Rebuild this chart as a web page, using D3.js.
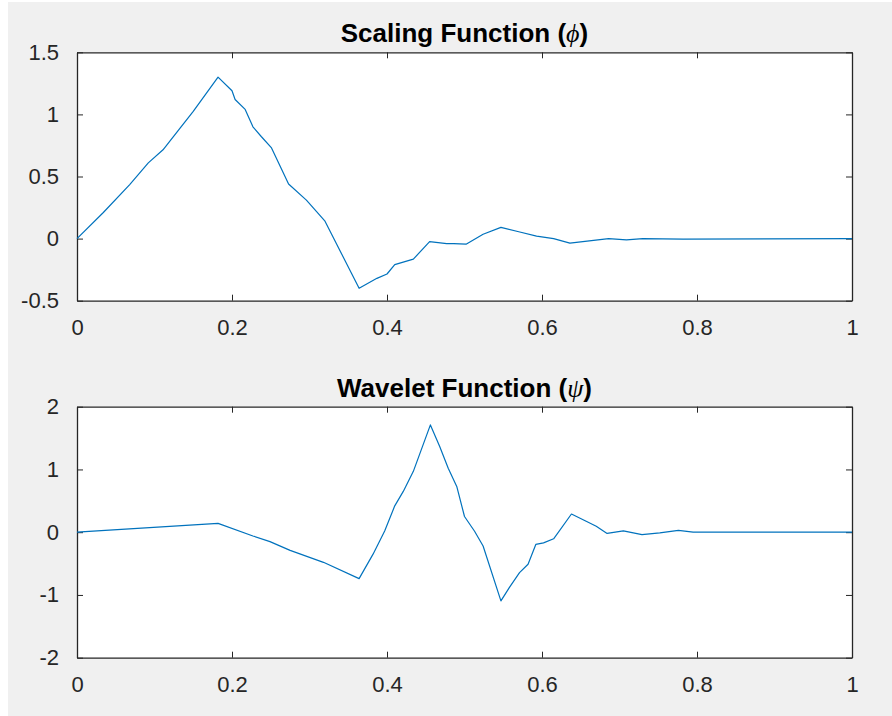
<!DOCTYPE html>
<html>
<head>
<meta charset="utf-8">
<script src="https://cdn.jsdelivr.net/npm/d3@7"></script>
<style>
    body { margin: 0; background: #ffffff; }
    svg { display: block; }
</style>
</head>
<body>
<svg id="svg"></svg>
<script>
// scaling function
let phiX = [0, 0.034, 0.068, 0.092, 0.111, 0.133, 0.150, 0.182, 0.200, 0.204, 0.217, 0.227, 0.238, 0.251, 0.273, 0.296, 0.320,
    0.364, 0.387, 0.400, 0.410, 0.434, 0.455, 0.477, 0.486, 0.502, 0.524, 0.547, 0.570, 0.593, 0.615, 0.636, 0.686, 0.709, 0.730, 0.782, 1.0];
let phiY = [0, 0.21, 0.435, 0.61, 0.715, 0.89, 1.025, 1.30, 1.19, 1.12, 1.04, 0.90, 0.82, 0.73, 0.44, 0.31, 0.14,
    -0.40, -0.32, -0.285, -0.21, -0.165, -0.025, -0.04, -0.04, -0.045, 0.035, 0.09, 0.055, 0.02, 0.0, -0.037, 0.0, -0.01, 0.0, -0.005, 0];

// wavelet function
let psiX = [0, 0.182, 0.227, 0.249, 0.275, 0.318, 0.364, 0.382, 0.397, 0.410, 0.421, 0.434, 0.456, 0.468, 0.479, 0.490, 0.500, 0.513,
    0.524, 0.547, 0.558, 0.571, 0.582, 0.592, 0.602, 0.615, 0.638, 0.657, 0.670, 0.684, 0.705, 0.729, 0.752, 0.776, 0.795, 1.0];
let psiY = [0, 0.14, -0.06, -0.15, -0.29, -0.48, -0.74, -0.35, 0.02, 0.42, 0.65, 0.97, 1.71, 1.365, 1.02, 0.73, 0.25, 0.015,
    -0.22, -1.095, -0.88, -0.645, -0.51, -0.195, -0.17, -0.105, 0.29, 0.175, 0.095, -0.02, 0.02, -0.04, -0.01, 0.03, 0.0, 0];

let xTicks = [0, 0.2, 0.4, 0.6, 0.8, 1];
let phiTicks = [-0.5, 0, 0.5, 1, 1.5];
let psiTicks = [-2, -1, 0, 1, 2];

const width = 892;
const height = 716;
const axisColor = "#262626";
const lineColor = "#0072BD";
const tickLen = 6;

let svg = d3.select("#svg").attr("width", width).attr("height", height);

svg.append("rect")
    .attr("x", 8).attr("y", 2)
    .attr("width", width - 8).attr("height", height - 2)
    .attr("fill", "#f0f0f0");

function drawPanel(xs, ys, yDomain, yTicks, box, titleMain, titleSym) {
    let xScale = d3.scaleLinear().domain([0, 1]).range([box.left, box.right]);
    let yScale = d3.scaleLinear().domain(yDomain).range([box.bottom, box.top]);

    let g = svg.append("g");

    g.append("rect")
        .attr("x", box.left).attr("y", box.top)
        .attr("width", box.right - box.left).attr("height", box.bottom - box.top)
        .attr("fill", "#ffffff");

    let fmt = d => String(d);

    // bottom and top axes, ticks pointing inward
    g.append("g")
        .attr("transform", `translate(0,${box.bottom})`)
        .call(d3.axisBottom(xScale).tickValues(xTicks).tickSizeInner(-tickLen).tickSizeOuter(0).tickPadding(tickLen + 13).tickFormat(fmt));
    g.append("g")
        .attr("transform", `translate(0,${box.top})`)
        .call(d3.axisTop(xScale).tickValues(xTicks).tickSizeInner(-tickLen).tickSizeOuter(0).tickFormat(""));

    // left and right axes
    g.append("g")
        .attr("transform", `translate(${box.left},0)`)
        .call(d3.axisLeft(yScale).tickValues(yTicks).tickSizeInner(-tickLen).tickSizeOuter(0).tickPadding(tickLen + 12).tickFormat(fmt));
    g.append("g")
        .attr("transform", `translate(${box.right},0)`)
        .call(d3.axisRight(yScale).tickValues(yTicks).tickSizeInner(-tickLen).tickSizeOuter(0).tickFormat(""));

    g.selectAll(".domain").attr("stroke", axisColor).attr("stroke-width", 1.3);
    g.selectAll(".tick line").attr("stroke", axisColor).attr("stroke-width", 1);
    g.selectAll(".tick text")
        .attr("fill", axisColor)
        .style("font-family", "Arial, 'Liberation Sans', Helvetica, sans-serif")
        .style("font-size", "22px");

    let points = xs.map((x, i) => [x, ys[i]]);
    let line = d3.line()
        .x(d => xScale(d[0]))
        .y(d => yScale(d[1]));

    g.append("path")
        .datum(points)
        .attr("d", line)
        .attr("fill", "none")
        .attr("stroke", lineColor)
        .attr("stroke-width", 1.2)
        .attr("stroke-linejoin", "round");

    let title = g.append("text")
        .attr("x", (box.left + box.right) / 2)
        .attr("y", box.top - 10)
        .attr("text-anchor", "middle")
        .attr("fill", "#000000")
        .style("font-family", "Arial, 'Liberation Sans', Helvetica, sans-serif")
        .style("font-size", "26px")
        .style("font-weight", "bold");
    title.append("tspan").text(titleMain + " (");
    title.append("tspan")
        .style("font-family", "'Liberation Serif', 'DejaVu Serif', serif")
        .style("font-style", "italic")
        .style("font-weight", "normal")
        .text(titleSym);
    title.append("tspan").text(")");
}

drawPanel(phiX, phiY, [-0.5, 1.5], phiTicks,
    { left: 77, right: 852, top: 52.3, bottom: 300.7 }, "Scaling Function", "\u03D5");
drawPanel(psiX, psiY, [-2, 2], psiTicks,
    { left: 77, right: 852, top: 406.7, bottom: 657.7 }, "Wavelet Function", "\u03C8");
</script>
</body>
</html>
